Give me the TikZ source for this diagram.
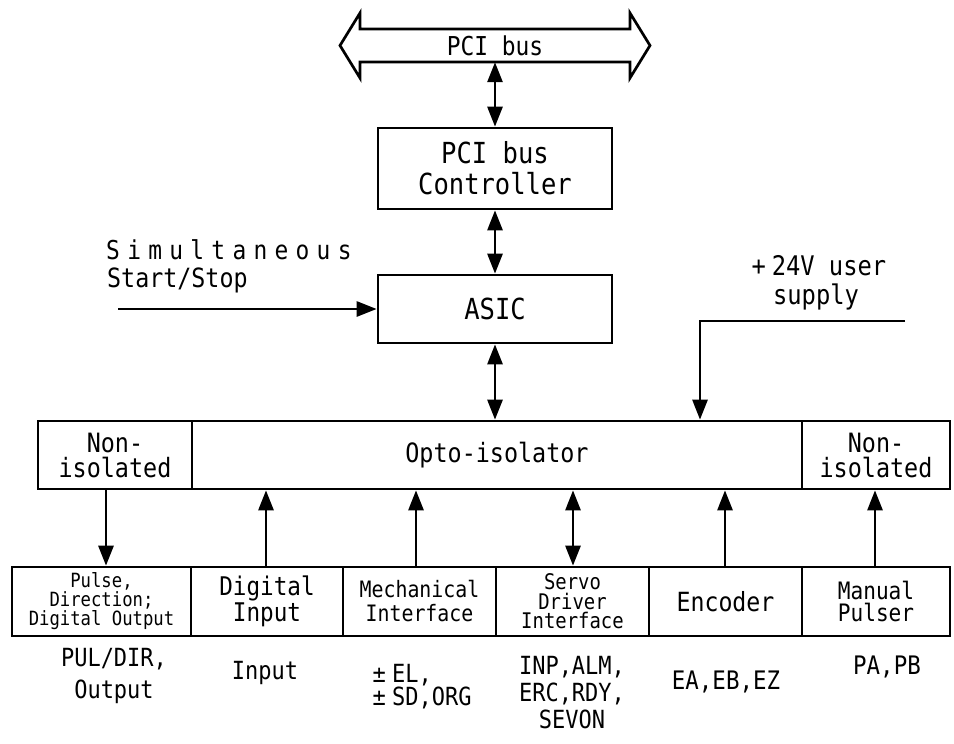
\documentclass[tikz,border=0pt]{standalone}
\usepackage{fontspec}
\setmainfont[FakeStretch=0.88]{DejaVu Sans Mono}
\usetikzlibrary{arrows.meta}
\tikzset{
  box/.style={draw, line width=2.7pt, inner sep=0pt, align=center, anchor=center},
  txt/.style={inner sep=0pt, align=center},
  arr/.style={line width=2.7pt, line join=miter, -{Triangle[length=20pt,width=15pt]}},
  darr/.style={line width=2.7pt, {Triangle[length=20pt,width=15pt]}-{Triangle[length=20pt,width=15pt]}},
}
\newcommand\fs[2]{\fontsize{#1}{#2}\selectfont}
\begin{document}
\begin{tikzpicture}[x=1pt,y=-1pt]
\useasboundingbox (0,0) rectangle (954,744);
% PCI bus double arrow
\draw[line width=2.7pt, line join=miter]
  (340,45.5) -- (360,13) -- (360,29) -- (630,29) -- (630,13) -- (650,45.5)
  -- (630,78) -- (630,62) -- (360,62) -- (360,78) -- cycle;
\node[txt, minimum width=270pt, minimum height=33pt, font=\fs{26}{30}] (bus) at (495,45.5) {PCI bus};
% main boxes
\node[box, minimum width=234pt, minimum height=81pt, font=\fs{29}{31}] (pcic) at (495,168.5) {PCI bus\\Controller};
\node[box, minimum width=234pt, minimum height=68pt, font=\fs{29}{31}] (asic) at (495,309) {ASIC};
% isolation row
\node[box, minimum width=154pt, minimum height=68pt, font=\fs{26.6}{25}] (nonL) at (115,455) {Non-\\isolated};
\node[box, minimum width=610pt, minimum height=68pt, font=\fs{26.6}{25}] (opto) at (497,455) {Opto-isolator};
\node[box, minimum width=148pt, minimum height=68pt, font=\fs{26.6}{25}] (nonR) at (876,455) {Non-\\isolated};
% bottom row
\node[box, minimum width=179pt, minimum height=69pt, font=\fs{19.6}{19}] (pulse) at (101.5,601.5) {Pulse,\\Direction;\\Digital Output};
\node[box, minimum width=152pt, minimum height=69pt, font=\fs{25.7}{26}] (din) at (267,601.5) {Digital\\Input};
\node[box, minimum width=153pt, minimum height=69pt, font=\fs{22.6}{24}] (mech) at (419.5,601.5) {Mechanical\\Interface};
\node[box, minimum width=153pt, minimum height=69pt, font=\fs{21.5}{19.5}] (servo) at (572.5,601.5) {Servo\\Driver\\Interface};
\node[box, minimum width=153pt, minimum height=69pt, font=\fs{26.4}{28}] (enc) at (725.5,601.5) {Encoder};
\node[box, minimum width=148pt, minimum height=69pt, font=\fs{24}{22}] (man) at (876,601.5) {Manual\\Pulser};
% side texts
\node[txt, anchor=west, font=\fs{26}{30}] (simt) at (106,250) {\addfontfeature{LetterSpace=28}Simultaneous};
\node[txt, anchor=west, font=\fs{26.5}{30}] (sstop) at (107,280) {Start/Stop};
\node[txt, font=\fs{27}{29}] (suptxt) at (816,282.5) {\makebox[26pt]{+}24V user\\supply};
% bottom labels
\node[txt, font=\fs{25}{32}] (lab1) at (114,676) {PUL/DIR,\\Output};
\node[txt, font=\fs{25}{30}] (lab2) at (265,673) {Input};
\node[txt, anchor=west, align=left, font=\fs{25}{23}] (lab3) at (366,687) {\makebox[26pt]{±}EL,\\\makebox[26pt]{±}SD,ORG};
\node[txt, font=\fs{25}{27}] (lab4) at (572,693) {INP,ALM,\\ERC,RDY,\\SEVON};
\node[txt, font=\fs{25.5}{30}] (lab5) at (726,682) {EA,EB,EZ};
\node[txt, font=\fs{25.5}{30}] (lab6) at (887,667) {PA,PB};
% connectors
\draw[darr] (bus.south) -- (pcic.north);
\draw[darr] (pcic.south) -- (asic.north);
\draw[darr] (asic.south) -- (asic.south |- opto.north);
\coordinate (ss) at (118,309);
\draw[arr] (ss) -- (asic.west);
\coordinate (sup) at (905,321);
\coordinate (supc) at (700,321);
\draw[arr] (sup) -- (supc) -- (supc |- opto.north);
\coordinate (c1) at (106,0);
\coordinate (c2) at (266,0);
\coordinate (c3) at (416,0);
\coordinate (c4) at (573,0);
\coordinate (c5) at (725,0);
\coordinate (c6) at (875,0);
\draw[arr] (c1 |- nonL.south) -- (c1 |- pulse.north);
\draw[arr] (c2 |- din.north) -- (c2 |- opto.south);
\draw[arr] (c3 |- mech.north) -- (c3 |- opto.south);
\draw[darr] (c4 |- servo.north) -- (c4 |- opto.south);
\draw[arr] (c5 |- enc.north) -- (c5 |- opto.south);
\draw[arr] (c6 |- man.north) -- (c6 |- nonR.south);
\end{tikzpicture}
\end{document}
